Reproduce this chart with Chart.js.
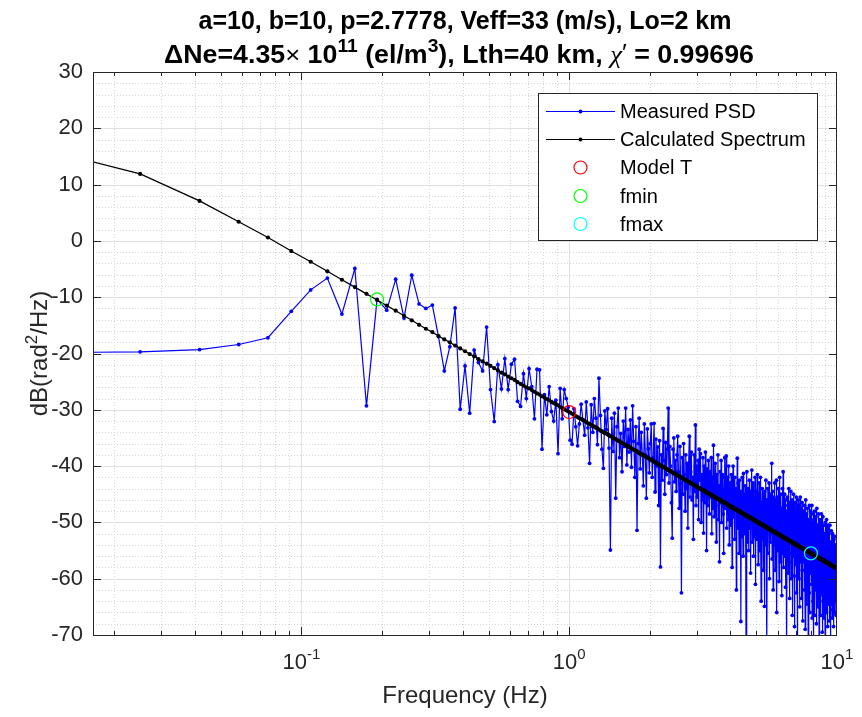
<!DOCTYPE html>
<html>
<head>
<meta charset="utf-8">
<title>PSD fit</title>
<script src="https://cdn.jsdelivr.net/npm/chart.js@4.4.1/dist/chart.umd.min.js"></script>
<style>
	html, body { margin: 0; padding: 0; background: #fff; }
	#wrap { width: 862px; height: 717px; }
</style>
</head>
<body>
<div id="wrap"><canvas id="chart-psd" width="862" height="717"></canvas></div>
<script>
//---------------------------------------------------------
// Data
//---------------------------------------------------------

// frequency grid step (Hz), first bin sits at DF / 2
const DF = 1 / 60;

const MEASURED_PSD = [
	-19.9, -19.7, -19.3, -18.4, -17.2, -12.5, -8.7, -6.6, -13.0, -4.9,
	-29.3, -10.4, -12.3, -6.8, -13.7, -6.1, -11.2, -12.0, -11.4, -17.0,
	-23.1, -18.8, -11.9, -29.9, -22.2, -30.6, -19.4, -21.6, -23.1, -15.3,
	-26.4, -32.1, -22.0, -26.3, -20.9, -26.4, -21.9, -21.0, -28.5, -29.4,
	-23.6, -28.0, -22.7, -25.9, -31.6, -22.8, -22.9, -37.0, -27.3, -30.9,
	-25.9, -30.3, -32.0, -28.3, -37.8, -26.2, -31.6, -26.4, -28.0, -29.5,
	-35.4, -36.1, -29.8, -33.0, -36.4, -32.5, -29.0, -31.8, -34.5, -28.6,
	-33.2, -39.5, -29.1, -34.0, -28.0, -31.5, -36.2, -24.4, -31.0, -37.0,
	-40.4, -30.2, -33.5, -29.8, -36.8, -54.9, -31.5, -37.4, -30.6, -45.7,
	-33.0, -29.7, -38.5, -34.2, -41.0, -32.0, -36.5, -29.7, -39.8, -33.5,
	-37.5, -31.8, -40.2, -29.3, -35.6, -42.0, -33.0, -51.4, -36.0, -31.5,
	-40.5, -34.0, -37.8, -43.5, -32.5, -38.0, -45.7, -33.4, -36.9, -41.2,
	-36.0, -32.5, -42.0, -38.5, -32.4, -44.6, -35.2, -40.0, -36.6, -47.0,
	-35.5, -57.9, -38.0, -42.5, -33.3, -39.0, -45.0, -35.8, -41.5, -37.0,
	-29.7, -43.0, -36.5, -40.0, -46.5, -52.8, -37.0, -35.0, -42.8, -39.0,
	-44.5, -38.0, -34.7, -41.0, -47.5, -36.5, -43.0, -62.5, -38.5, -45.0,
	-36.0, -41.5, -48.0, -38.0, -44.0, -39.5, -51.0, -40.0, -34.7, -45.5,
	-41.0, -37.5, -46.0, -42.0, -53.0, -38.0, -44.5, -32.7, -47.0, -40.0,
	-45.5, -39.0, -49.5, -37.0, -42.5, -37.8, -50.0, -41.5, -46.0, -38.5,
	-51.9, -40.0, -46.5, -37.5, -43.5, -55.0, -40.5, -47.0, -39.0, -44.5,
	-48.5, -41.0, -45.5, -38.5, -52.0, -42.0, -47.5, -36.3, -49.0, -43.0,
	-39.5, -47.0, -53.5, -41.5, -45.0, -38.0, -49.5, -43.5, -57.0, -41.0,
	-46.5, -39.0, -50.0, -44.0, -41.5, -48.5, -55.5, -42.0, -38.5, -47.5,
	-44.0, -38.2, -51.0, -45.0, -42.0, -49.5, -40.0, -54.0, -46.0, -43.0,
	-50.5, -41.5, -47.0, -58.0, -44.0, -40.0, -49.0, -45.5, -53.0, -42.0,
	-47.0, -44.0, -62.0, -46.5, -38.6, -51.0, -43.0, -48.5, -55.5, -42.5,
	-49.0, -44.5, -67.6, -47.0, -52.5, -42.0, -50.0, -56.0, -41.3, -48.0,
	-45.0, -52.0, -43.5, -49.5, -73.5, -46.0, -41.0, -53.5, -47.0, -44.0,
	-55.0, -48.5, -42.5, -51.0, -46.0, -59.0, -44.5, -50.0, -40.7, -53.5,
	-47.0, -43.0, -56.0, -49.0, -45.5, -52.5, -42.0, -61.0, -48.0, -44.5,
	-53.0, -46.0, -41.5, -50.5, -57.5, -45.0, -49.0, -43.0, -55.0, -47.5,
	-42.0, -51.5, -64.0, -46.5, -49.0, -44.0, -53.0, -47.0, -58.5, -45.0,
	-50.0, -64.9, -44.5, -48.0, -54.0, -42.5, -50.5, -46.0, -72.5, -49.0,
	-44.0, -55.5, -47.5, -51.0, -43.0, -60.0, -48.5, -45.0, -53.5, -49.5,
	-46.0, -52.0, -39.5, -56.5, -48.0, -44.5, -62.0, -50.0, -45.5, -54.0,
	-47.5, -43.0, -58.5, -50.5, -46.0, -53.0, -42.5, -66.0, -49.0, -45.5,
	-55.0, -48.0, -44.0, -51.5, -60.5, -46.5, -42.0, -53.5, -49.0, -57.0,
	-45.0, -51.0, -47.5, -63.0, -48.5, -44.0, -55.5, -41.0, -52.0, -58.0,
	-47.0, -50.5, -45.0, -56.0, -49.5, -61.5, -46.0, -53.0, -48.0, -74.0,
	-50.0, -45.5, -54.5, -47.0, -59.0, -51.5, -44.0, -57.0, -49.0, -63.5,
	-46.5, -52.0, -48.5, -44.5, -60.0, -50.5, -55.5, -46.0, -66.5, -51.0,
	-47.5, -56.0, -45.0, -52.5, -49.0, -59.5, -68.5, -46.5, -53.0, -48.0,
	-57.5, -50.0, -45.5, -62.5, -49.0, -54.5, -47.0, -71.5, -52.0, -46.0,
	-55.0, -49.5, -60.0, -47.0, -52.5, -65.0, -48.5, -45.5, -57.0, -51.0,
	-47.5, -63.5, -50.0, -55.5, -46.5, -58.5, -52.0, -67.5, -49.0, -54.0,
	-48.0, -57.0, -51.5, -62.0, -47.0, -55.5, -69.0, -50.5, -46.0, -59.5,
	-53.0, -48.5, -64.5, -51.0, -56.5, -47.5, -60.5, -52.5, -73.0, -49.5,
	-57.5, -50.0, -62.5, -47.0, -54.5, -66.0, -51.5, -48.0, -59.0, -53.0,
	-49.5, -61.0, -55.0, -47.0, -67.0, -52.5, -58.0, -50.0, -64.0, -48.5,
	-56.0, -70.5, -51.5, -60.0, -48.0, -54.5, -66.5, -50.5, -57.5, -62.0,
	-49.0, -55.0, -68.0, -52.0, -47.5, -61.5, -54.0, -58.5, -50.5, -65.0,
	-53.0, -48.5, -60.5, -56.0, -72.0, -51.0, -57.5, -49.5, -63.0, -54.5,
	-50.0, -66.5, -55.5, -59.0, -48.5, -62.5, -53.0, -57.0, -69.5, -51.5,
	-58.0, -49.0, -64.0, -54.5, -60.5, -50.5, -67.0, -56.0, -52.0, -61.5,
	-55.0, -71.0, -50.0, -58.5, -63.5, -52.5, -57.0, -66.0, -49.5, -60.0,
	-54.0, -62.0, -51.0, -68.5, -56.5, -59.5, -50.5, -64.5, -55.0, -61.0,
	-52.0, -67.5, -57.0, -60.0, -50.5, -63.0, -55.5, -70.5, -53.5, -59.0,
	-64.5, -51.5, -58.0, -62.5, -54.0, -67.0, -56.5, -52.0, -65.5, -59.5,
	-55.5, -61.0, -68.5, -53.0, -58.0, -63.5, -56.0, -66.0, -52.5, -60.0,
	-64.0, -57.5, -54.0, -62.0, -58.5, -66.5, -55.0, -61.0, -59.0, -62.5,
];

const CALC_SPECTRUM = [
	17.7, 11.9, 7.1, 3.4, 0.6, -1.8, -3.7, -5.4, -6.9, -8.2,
	-9.4, -10.5, -11.5, -12.4, -13.3, -14.1, -14.9, -15.6, -16.2, -16.9,
	-17.5, -18.0, -18.6, -19.1, -19.6, -20.1, -20.5, -21.0, -21.4, -21.8,
	-22.2, -22.6, -23.0, -23.4, -23.7, -24.1, -24.4, -24.7, -25.1, -25.4,
	-25.7, -26.0, -26.2, -26.5, -26.8, -27.1, -27.3, -27.6, -27.8, -28.1,
	-28.3, -28.6, -28.8, -29.0, -29.2, -29.5, -29.7, -29.9, -30.1, -30.3,
	-30.5, -30.7, -30.9, -31.1, -31.3, -31.5, -31.6, -31.8, -32.0, -32.2,
	-32.4, -32.5, -32.7, -32.9, -33.0, -33.2, -33.3, -33.5, -33.7, -33.8,
	-34.0, -34.1, -34.2, -34.4, -34.5, -34.7, -34.8, -35.0, -35.1, -35.2,
	-35.4, -35.5, -35.6, -35.8, -35.9, -36.0, -36.1, -36.3, -36.4, -36.5,
	-36.6, -36.7, -36.9, -37.0, -37.1, -37.2, -37.3, -37.4, -37.5, -37.7,
	-37.8, -37.9, -38.0, -38.1, -38.2, -38.3, -38.4, -38.5, -38.6, -38.7,
	-38.8, -38.9, -39.0, -39.1, -39.2, -39.3, -39.4, -39.5, -39.6, -39.7,
	-39.8, -39.9, -40.0, -40.1, -40.1, -40.2, -40.3, -40.4, -40.5, -40.6,
	-40.7, -40.8, -40.8, -40.9, -41.0, -41.1, -41.2, -41.3, -41.3, -41.4,
	-41.5, -41.6, -41.7, -41.7, -41.8, -41.9, -42.0, -42.0, -42.1, -42.2,
	-42.3, -42.4, -42.4, -42.5, -42.6, -42.6, -42.7, -42.8, -42.9, -42.9,
	-43.0, -43.1, -43.1, -43.2, -43.3, -43.4, -43.4, -43.5, -43.6, -43.6,
	-43.7, -43.8, -43.8, -43.9, -44.0, -44.0, -44.1, -44.2, -44.2, -44.3,
	-44.3, -44.4, -44.5, -44.5, -44.6, -44.7, -44.7, -44.8, -44.8, -44.9,
	-45.0, -45.0, -45.1, -45.1, -45.2, -45.3, -45.3, -45.4, -45.4, -45.5,
	-45.6, -45.6, -45.7, -45.7, -45.8, -45.8, -45.9, -45.9, -46.0, -46.1,
	-46.1, -46.2, -46.2, -46.3, -46.3, -46.4, -46.4, -46.5, -46.5, -46.6,
	-46.6, -46.7, -46.7, -46.8, -46.9, -46.9, -47.0, -47.0, -47.1, -47.1,
	-47.2, -47.2, -47.3, -47.3, -47.4, -47.4, -47.5, -47.5, -47.6, -47.6,
	-47.7, -47.7, -47.7, -47.8, -47.8, -47.9, -47.9, -48.0, -48.0, -48.1,
	-48.1, -48.2, -48.2, -48.3, -48.3, -48.4, -48.4, -48.4, -48.5, -48.5,
	-48.6, -48.6, -48.7, -48.7, -48.8, -48.8, -48.8, -48.9, -48.9, -49.0,
	-49.0, -49.1, -49.1, -49.1, -49.2, -49.2, -49.3, -49.3, -49.4, -49.4,
	-49.4, -49.5, -49.5, -49.6, -49.6, -49.6, -49.7, -49.7, -49.8, -49.8,
	-49.8, -49.9, -49.9, -50.0, -50.0, -50.0, -50.1, -50.1, -50.2, -50.2,
	-50.2, -50.3, -50.3, -50.4, -50.4, -50.4, -50.5, -50.5, -50.5, -50.6,
	-50.6, -50.7, -50.7, -50.7, -50.8, -50.8, -50.8, -50.9, -50.9, -51.0,
	-51.0, -51.0, -51.1, -51.1, -51.1, -51.2, -51.2, -51.2, -51.3, -51.3,
	-51.4, -51.4, -51.4, -51.5, -51.5, -51.5, -51.6, -51.6, -51.6, -51.7,
	-51.7, -51.7, -51.8, -51.8, -51.8, -51.9, -51.9, -51.9, -52.0, -52.0,
	-52.0, -52.1, -52.1, -52.1, -52.2, -52.2, -52.2, -52.3, -52.3, -52.3,
	-52.4, -52.4, -52.4, -52.5, -52.5, -52.5, -52.6, -52.6, -52.6, -52.7,
	-52.7, -52.7, -52.8, -52.8, -52.8, -52.9, -52.9, -52.9, -52.9, -53.0,
	-53.0, -53.0, -53.1, -53.1, -53.1, -53.2, -53.2, -53.2, -53.3, -53.3,
	-53.3, -53.3, -53.4, -53.4, -53.4, -53.5, -53.5, -53.5, -53.6, -53.6,
	-53.6, -53.6, -53.7, -53.7, -53.7, -53.8, -53.8, -53.8, -53.8, -53.9,
	-53.9, -53.9, -54.0, -54.0, -54.0, -54.0, -54.1, -54.1, -54.1, -54.2,
	-54.2, -54.2, -54.2, -54.3, -54.3, -54.3, -54.3, -54.4, -54.4, -54.4,
	-54.5, -54.5, -54.5, -54.5, -54.6, -54.6, -54.6, -54.7, -54.7, -54.7,
	-54.7, -54.8, -54.8, -54.8, -54.8, -54.9, -54.9, -54.9, -54.9, -55.0,
	-55.0, -55.0, -55.0, -55.1, -55.1, -55.1, -55.1, -55.2, -55.2, -55.2,
	-55.3, -55.3, -55.3, -55.3, -55.4, -55.4, -55.4, -55.4, -55.5, -55.5,
	-55.5, -55.5, -55.6, -55.6, -55.6, -55.6, -55.7, -55.7, -55.7, -55.7,
	-55.8, -55.8, -55.8, -55.8, -55.9, -55.9, -55.9, -55.9, -56.0, -56.0,
	-56.0, -56.0, -56.0, -56.1, -56.1, -56.1, -56.1, -56.2, -56.2, -56.2,
	-56.2, -56.3, -56.3, -56.3, -56.3, -56.4, -56.4, -56.4, -56.4, -56.5,
	-56.5, -56.5, -56.5, -56.5, -56.6, -56.6, -56.6, -56.6, -56.7, -56.7,
	-56.7, -56.7, -56.7, -56.8, -56.8, -56.8, -56.8, -56.9, -56.9, -56.9,
	-56.9, -57.0, -57.0, -57.0, -57.0, -57.0, -57.1, -57.1, -57.1, -57.1,
	-57.1, -57.2, -57.2, -57.2, -57.2, -57.3, -57.3, -57.3, -57.3, -57.3,
	-57.4, -57.4, -57.4, -57.4, -57.5, -57.5, -57.5, -57.5, -57.5, -57.6,
	-57.6, -57.6, -57.6, -57.6, -57.7, -57.7, -57.7, -57.7, -57.7, -57.8,
	-57.8, -57.8, -57.8, -57.9, -57.9, -57.9, -57.9, -57.9, -58.0, -58.0,
	-58.0, -58.0, -58.0, -58.1, -58.1, -58.1, -58.1, -58.1, -58.2, -58.2,
];

// single markers: [frequency (Hz), dB]
const MODEL_T_POINT = [1.0, -30.4];
const FMIN_POINT = [0.1917, -10.4];
const FMAX_POINT = [7.99, -55.5];

// axis limits and tick labels
const X_LIMITS = [1 / 60, 10];
const Y_LIMITS = [-70, 30];
const X_TICK_EXPONENTS = ["-1", "0", "1"];

const TITLE_LINE_1 = "a=10, b=10, p=2.7778, Veff=33 (m/s), Lo=2 km";
const LEGEND_LABELS = ["Measured PSD", "Calculated Spectrum", "Model T", "fmin", "fmax"];

//---------------------------------------------------------
// Helpers
//---------------------------------------------------------

const FREQ = MEASURED_PSD.map((_, i) => (i + 0.5) * DF);
const SANS = '"Liberation Sans", Arial, Helvetica, sans-serif';
const AXIS_COLOR = "#262626";
const BLUE = "#0000ff";
const BLACK = "#000000";
const RED = "#ff0000";
const GREEN = "#00ff00";
const CYAN = "#00ffff";

const toXY = (xs, ys) => xs.map((x, i) => ({ x, y: ys[i] }));

// draw a run of text pieces (font, raise) centred on cx, optionally stretched to a width
const drawRich = (ctx, parts, cx, baseline, fitWidth) => {
	let total = 0;
	parts.forEach((p) => {
		ctx.font = p.font;
		p.w = ctx.measureText(p.text).width;
		total += p.w;
	});
	const sx = fitWidth ? fitWidth / total : 1;
	ctx.save();
	ctx.translate(cx - (total * sx) / 2, baseline);
	ctx.scale(sx, 1);
	ctx.textAlign = "left";
	ctx.textBaseline = "alphabetic";
	let xPos = 0;
	parts.forEach((p) => {
		ctx.font = p.font;
		ctx.fillText(p.text, xPos, -(p.raise || 0));
		xPos += p.w;
	});
	ctx.restore();
};

const X_MAJOR = [0.1, 1];
const X_MINOR = [];
[0.01, 0.1, 1].forEach((d) => {
	for (let k = 2; k <= 9; k++) X_MINOR.push(k * d);
});
const Y_MAJOR = [-60, -50, -40, -30, -20, -10, 0, 10, 20];
const Y_MINOR = [];
for (let v = -68; v <= 28; v += 2) {
	if (v % 10 !== 0) Y_MINOR.push(v);
}

//---------------------------------------------------------
// Plugin: grid, box, ticks, texts, legend
//---------------------------------------------------------

const matlabAxes = {
	id: "matlabAxes",
	beforeDatasetsDraw(chart) {
		const { ctx, chartArea: a, scales } = chart;
		const xs = scales.x;
		const ys = scales.y;
		ctx.save();
		ctx.lineWidth = 1;

		// minor grid, dotted
		ctx.strokeStyle = "#d6d6d6";
		ctx.setLineDash([1, 2]);
		ctx.beginPath();
		X_MINOR.filter((v) => v > X_LIMITS[0]).forEach((v) => {
			const px = Math.round(xs.getPixelForValue(v)) + 0.5;
			ctx.moveTo(px, a.top);
			ctx.lineTo(px, a.bottom);
		});
		Y_MINOR.forEach((v) => {
			const py = Math.round(ys.getPixelForValue(v)) + 0.5;
			ctx.moveTo(a.left, py);
			ctx.lineTo(a.right, py);
		});
		ctx.stroke();

		// major grid, solid
		ctx.setLineDash([]);
		ctx.strokeStyle = "#e0e0e0";
		ctx.beginPath();
		X_MAJOR.forEach((v) => {
			const px = Math.round(xs.getPixelForValue(v)) + 0.5;
			ctx.moveTo(px, a.top);
			ctx.lineTo(px, a.bottom);
		});
		Y_MAJOR.forEach((v) => {
			const py = Math.round(ys.getPixelForValue(v)) + 0.5;
			ctx.moveTo(a.left, py);
			ctx.lineTo(a.right, py);
		});
		ctx.stroke();
		ctx.restore();
	},
	afterDatasetsDraw(chart) {
		const { ctx, chartArea: a, scales } = chart;
		const xs = scales.x;
		const ys = scales.y;
		ctx.save();
		ctx.strokeStyle = AXIS_COLOR;
		ctx.lineWidth = 1;
		ctx.beginPath();

		// inward ticks on all four sides
		X_MINOR.filter((v) => v > X_LIMITS[0]).forEach((v) => {
			const px = Math.round(xs.getPixelForValue(v)) + 0.5;
			ctx.moveTo(px, a.bottom);
			ctx.lineTo(px, a.bottom - 4);
			ctx.moveTo(px, a.top);
			ctx.lineTo(px, a.top + 4);
		});
		X_MAJOR.forEach((v) => {
			const px = Math.round(xs.getPixelForValue(v)) + 0.5;
			ctx.moveTo(px, a.bottom);
			ctx.lineTo(px, a.bottom - 8);
			ctx.moveTo(px, a.top);
			ctx.lineTo(px, a.top + 8);
		});
		Y_MAJOR.forEach((v) => {
			const py = Math.round(ys.getPixelForValue(v)) + 0.5;
			ctx.moveTo(a.left, py);
			ctx.lineTo(a.left + 8, py);
			ctx.moveTo(a.right, py);
			ctx.lineTo(a.right - 8, py);
		});
		ctx.stroke();

		// box
		ctx.strokeRect(Math.round(a.left) + 0.5, Math.round(a.top) + 0.5, Math.round(a.right - a.left) - 1, Math.round(a.bottom - a.top));
		ctx.restore();
	},
	afterDraw(chart) {
		const { ctx, chartArea: a, scales } = chart;
		const xs = scales.x;
		const cx = (a.left + a.right) / 2;
		ctx.save();
		ctx.fillStyle = "#000";

		// title
		const B25 = "bold 25px " + SANS;
		const B18 = "bold 18px " + SANS;
		drawRich(ctx, [{ text: TITLE_LINE_1, font: B25 }], cx, 29);
		drawRich(
			ctx,
			[
				{ text: "\u0394Ne=4.35", font: B25 },
				{ text: "\u00d7", font: "24px " + SANS },
				{ text: " 10", font: B25 },
				{ text: "11", font: B18, raise: 11 },
				{ text: " (el/m", font: B25 },
				{ text: "3", font: B18, raise: 11 },
				{ text: "), Lth=40 km, ", font: B25 },
				{ text: "\u03c7", font: 'italic 25px "Liberation Serif", "DejaVu Serif", serif' },
				{ text: "\u2032", font: "24px " + SANS, raise: 2 },
				{ text: " = 0.99696", font: B25 },
			],
			cx - 6,
			63,
			590
		);

		// x tick labels 10^n
		ctx.fillStyle = AXIS_COLOR;
		X_TICK_EXPONENTS.forEach((e) => {
			const px = xs.getPixelForValue(Math.pow(10, Number(e)));
			drawRich(
				ctx,
				[
					{ text: "10", font: "22px " + SANS },
					{ text: e, font: "15px " + SANS, raise: 10 },
				],
				px,
				669
			);
		});

		// axis titles
		drawRich(ctx, [{ text: "Frequency (Hz)", font: "24px " + SANS }], cx, 703);
		ctx.save();
		ctx.translate(47, (a.top + a.bottom) / 2);
		ctx.rotate(-Math.PI / 2);
		drawRich(
			ctx,
			[
				{ text: "dB(rad", font: "24px " + SANS },
				{ text: "2", font: "17px " + SANS, raise: 10 },
				{ text: "/Hz)", font: "24px " + SANS },
			],
			0,
			0
		);
		ctx.restore();

		// legend
		const L = { x: 538.5, y: 93.5, w: 279, h: 147 };
		ctx.fillStyle = "#fff";
		ctx.fillRect(L.x, L.y, L.w, L.h);
		ctx.strokeStyle = AXIS_COLOR;
		ctx.lineWidth = 1;
		ctx.strokeRect(L.x, L.y, L.w, L.h);
		const rowY = [111.5, 139.5, 167.5, 196, 224];
		const colors = [BLUE, BLACK, RED, GREEN, CYAN];
		rowY.forEach((yy, i) => {
			ctx.strokeStyle = colors[i];
			ctx.fillStyle = colors[i];
			if (i < 2) {
				ctx.lineWidth = 1.2;
				ctx.beginPath();
				ctx.moveTo(546, yy);
				ctx.lineTo(615, yy);
				ctx.stroke();
				ctx.beginPath();
				ctx.arc(580.5, yy, 2, 0, Math.PI * 2);
				ctx.fill();
			} else {
				ctx.lineWidth = 1.2;
				ctx.beginPath();
				ctx.arc(580.5, yy, 6.5, 0, Math.PI * 2);
				ctx.stroke();
			}
			ctx.fillStyle = "#000";
			ctx.font = "20px " + SANS;
			ctx.textAlign = "left";
			ctx.textBaseline = "middle";
			ctx.fillText(LEGEND_LABELS[i], 620, yy + 1);
		});
		ctx.restore();
	},
};

//---------------------------------------------------------
// Chart
//---------------------------------------------------------

const circleSet = (label, pt, color) => ({
	label,
	data: [{ x: pt[0], y: pt[1] }],
	showLine: false,
	pointStyle: "circle",
	pointRadius: 6.5,
	pointHoverRadius: 6.5,
	pointBorderWidth: 1.2,
	pointBorderColor: color,
	pointBackgroundColor: "rgba(0,0,0,0)",
	clip: 0,
	order: 0,
});

const CHART_CONFIG = {
	type: "scatter",
	data: {
		datasets: [
			{
				label: LEGEND_LABELS[0],
				data: toXY(FREQ, MEASURED_PSD),
				showLine: true,
				borderColor: BLUE,
				borderWidth: 1.2,
				pointRadius: 1.9,
				pointBorderWidth: 0,
				pointBackgroundColor: BLUE,
				clip: 0,
				order: 5,
			},
			{
				label: LEGEND_LABELS[1],
				data: toXY(FREQ, CALC_SPECTRUM),
				showLine: true,
				borderColor: BLACK,
				borderWidth: 1.3,
				pointRadius: 2.1,
				pointBorderWidth: 0,
				pointBackgroundColor: BLACK,
				clip: 0,
				order: 4,
			},
			circleSet(LEGEND_LABELS[2], MODEL_T_POINT, RED),
			circleSet(LEGEND_LABELS[3], FMIN_POINT, GREEN),
			circleSet(LEGEND_LABELS[4], FMAX_POINT, CYAN),
		],
	},
	options: {
		responsive: false,
		animation: false,
		devicePixelRatio: 1,
		events: [],
		layout: {
			padding: { top: 72, right: 25, bottom: 0, left: 0 },
		},
		scales: {
			x: {
				type: "logarithmic",
				min: X_LIMITS[0],
				max: X_LIMITS[1],
				grid: { display: false },
				border: { display: false },
				ticks: { display: false },
				afterFit: (s) => {
					s.height = 82;
				},
			},
			y: {
				type: "linear",
				min: Y_LIMITS[0],
				max: Y_LIMITS[1],
				grid: { display: false, drawTicks: false },
				border: { display: false },
				ticks: {
					stepSize: 10,
					padding: 10,
					color: AXIS_COLOR,
					font: { family: SANS, size: 22 },
				},
				afterFit: (s) => {
					s.width = 93;
				},
			},
		},
		plugins: {
			legend: { display: false },
			tooltip: { enabled: false },
		},
	},
	plugins: [matlabAxes],
};

new Chart(document.getElementById("chart-psd"), CHART_CONFIG);
</script>
</body>
</html>
